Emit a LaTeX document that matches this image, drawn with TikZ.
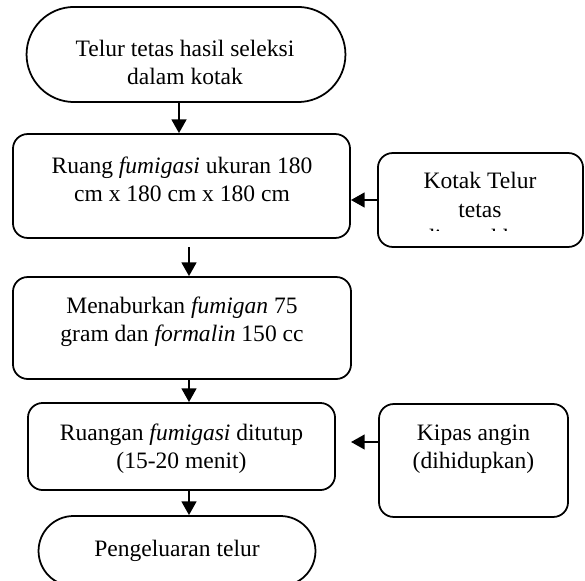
\documentclass[tikz,border=0pt]{standalone}
\usepackage{fontspec}
\setmainfont{Liberation Serif}
\usepackage{tikz}
\usetikzlibrary{shapes.misc,arrows.meta,positioning}

\begin{document}
\begin{tikzpicture}[x=0.51pt, y=-0.51pt,
    box/.style={draw, line width=0.9pt, rounded corners=7.5pt},
    term/.style={draw, line width=0.9pt, rounded rectangle},
    txt/.style={align=center, inner sep=0pt, font=\fontsize{12}{14.5}\selectfont},
    arr/.style={-{Triangle[length=7pt,width=7.5pt]}, line width=1.2pt}]
  \useasboundingbox (0,0) rectangle (585,580);
  \node[term, minimum width=169.3pt, minimum height=48.5pt] (telur) at (186,54.5) {};
  \node[box, minimum width=171.9pt, minimum height=53pt] (ruang) at (181.5,186) {};
  \node[box, minimum width=104.6pt, minimum height=47.9pt] (kotak) at (480.5,200) {};
  \node[box, minimum width=172.4pt, minimum height=52pt] (tabur) at (182,328) {};
  \node[box, minimum width=156.6pt, minimum height=44.4pt] (tutup) at (181.5,446.5) {};
  \node[box, minimum width=96.4pt, minimum height=57.6pt] (kipas) at (473.5,460.5) {};
  \node[term, minimum width=147.9pt, minimum height=35.7pt] (keluar) at (177,551) {};
  \node[txt] (telur-txt) at (185,62.5) {Telur tetas hasil seleksi\\dalam kotak};
  \node[txt] (ruang-txt) at (182,179.5) {Ruang \textit{fumigasi} ukuran 180\\cm x 180 cm x 180 cm};
  \begin{scope}
    \clip (kotak.north west) rectangle (583,230);
    \node[txt] (kotak-txt) at (480,209) {Kotak Telur\\tetas\\dimasukkan};
  \end{scope}
  \node[txt] (tabur-txt) at (182,322) {Menaburkan \textit{fumigan} 75\\gram dan \textit{formalin} 150 cc};
  \node[txt] (tutup-txt) at (181.5,448.5) {Ruangan \textit{fumigasi} ditutup\\(15-20 menit)};
  \node[txt] (kipas-txt) at (473.5,449) {Kipas angin\\(dihidupkan)};
  \node[txt] (keluar-txt) at (177,550.5) {Pengeluaran telur};
  \coordinate (xa) at (179,0);
  \coordinate (xb) at (189,0);
  \coordinate (start2) at (189,247);
  \coordinate (tip) at (351,442);
  \draw[arr] (telur.south -| xa) -- (ruang.north -| xa);
  \draw[arr] (kotak.west) -- (kotak.west -| ruang.east);
  \draw[arr] (start2) -- (start2 |- tabur.north);
  \draw[arr] (tabur.south -| xb) -- (tutup.north -| xb);
  \draw[arr] (kipas.west |- tip) -- (tip);
  \draw[arr] (tutup.south -| xb) -- (keluar.north -| xb);
\end{tikzpicture}
\end{document}
